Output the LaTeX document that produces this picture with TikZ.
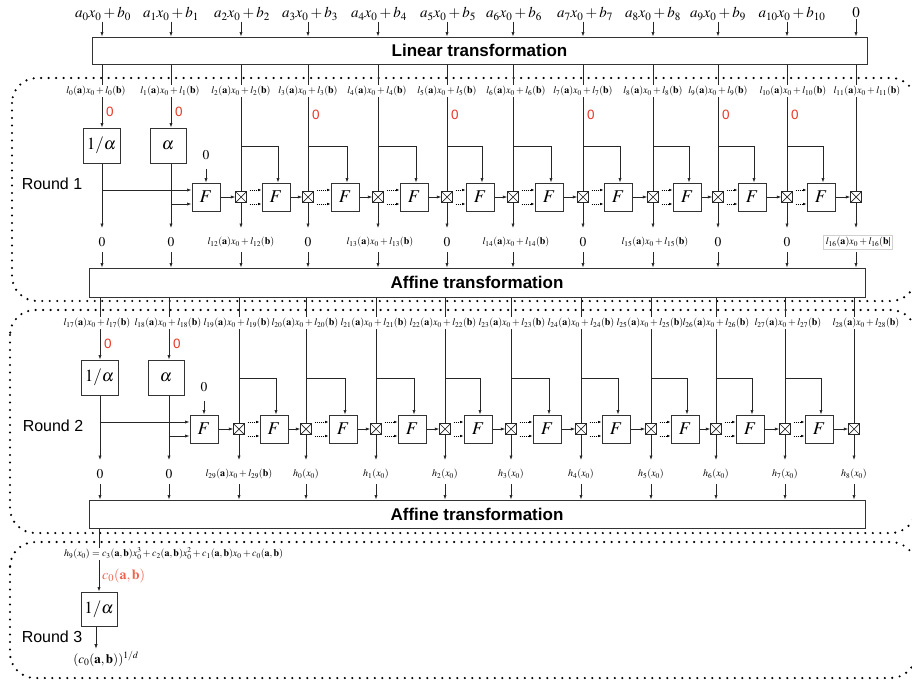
\documentclass[tikz,border=0pt]{standalone}
\usepackage{mathptmx}
\usepackage[no-math]{fontspec}
\newfontfamily\hv{Liberation Sans}
\usetikzlibrary{arrows.meta}
\definecolor{zred}{RGB}{232,58,42}
\definecolor{cred}{RGB}{240,98,78}
\definecolor{curblue}{RGB}{30,100,230}
\newcommand{\fs}[1]{\fontsize{#1}{#1}\selectfont}
\tikzset{
  wire/.style={line width=0.7pt, draw=black!85},
  arr/.style={wire, -{Latex[length=4.5pt,width=3.2pt]}},
  dotarr/.style={line width=0.6pt, dash pattern=on 1pt off 1pt, -{Latex[length=3.5pt,width=2.6pt]}},
  blk/.style={draw=black!80, line width=1pt, fill=white, inner sep=0pt},
  fbox/.style={blk, minimum width=28pt, minimum height=28pt, font=\fs{18}},
  abox/.style={blk, minimum width=37pt, minimum height=35pt, font=\fs{17}},
  xorbox/.style={draw=black!85, line width=0.9pt, fill=white, minimum size=10.5pt, inner sep=0pt,
    path picture={\draw[line width=0.7pt] (path picture bounding box.north west) -- (path picture bounding box.south east) (path picture bounding box.north east) -- (path picture bounding box.south west);}},
  bigbox/.style={blk, font=\hv\bfseries\fs{17}},
  roundlab/.style={font=\hv\fs{16}, inner sep=0pt},
  lab/.style={font=\fs{10}, inner sep=1pt, text height=7.5pt, text depth=2.5pt},
  inlab/.style={font=\fs{15}, inner sep=1pt},
  zero/.style={font=\fs{13.5}, inner sep=1pt},
  redzero/.style={font=\hv\fs{13.5}, text=zred, inner sep=0.5pt, anchor=west},
  dotline/.style={line width=2.4pt, line cap=round, dash pattern=on 0pt off 7.5pt, rounded corners=25pt},
}
\newcommand{\roundnodes}[1]{%
  \foreach \i/\xx in {0/102,1/171,2/241,3/308,4/378,5/447,6/513,7/583,8/653,9/718,10/787,11/856}{
    \coordinate (#1A\i) at (\xx,91);
  }
  \coordinate (#1T) at (0,146);
  \coordinate (#1E) at (0,228);
  \coordinate (#1S) at (0,252);
  \node[abox] (#1inv) at (101.5,145.5) {$1/\alpha$};
  \node[abox, minimum width=36pt] (#1alp) at (168,145.5) {$\alpha$};
  \foreach \k/\xx in {1/206,2/276,3/345,4/414,5/480,6/549,7/618,8/687,9/752,10/821}{
    \node[fbox] (#1F\k) at (\xx,197) {$F$};
    \coordinate (#1Fu\k) at ([yshift=7pt]#1F\k.west);
    \coordinate (#1Fl\k) at ([yshift=-7pt]#1F\k.west);
  }
  \foreach \k/\xx in {2/241,3/308,4/378,5/447,6/513,7/583,8/653,9/718,10/787,11/856}{
    \node[xorbox] (#1X\k) at (\xx,197) {};
  }
  \node[zero] (#1z) at (206,155) {$0$};
}
\newcommand{\roundwires}[3]{%
  \foreach \i in {0,...,11}{
    \draw[wire] (#2.south -| #1A\i) -- (#1L\i.north -| #1A\i);
  }
  \draw[arr] (#1L0.south -| #1A0) -- (#1inv.north -| #1A0);
  \draw[arr] (#1L1.south -| #1A1) -- (#1alp.north -| #1A1);
  \draw[arr] (#1inv.south -| #1A0) -- (#1E -| #1A0);
  \draw[arr] (#1alp.south -| #1A1) -- (#1E -| #1A1);
  \draw[arr] (#1Fu1 -| #1A0) -- (#1Fu1);
  \draw[arr] (#1Fl1 -| #1A1) -- (#1Fl1);
  \draw[arr, shorten <=8pt] (#1z.south) -- (#1F1.north);
  \foreach \k in {2,...,11}{
    \draw[wire] (#1L\k.south -| #1A\k) -- (#1X\k.north);
    \draw[arr] (#1X\k.south) -- (#1E -| #1A\k);
  }
  \foreach \k [evaluate=\k as \j using int(\k+1)] in {1,...,10}{
    \draw[arr] (#1F\k.east) -- (#1X\j.west);
  }
  \foreach \k in {2,...,10}{
    \draw[arr] (#1T -| #1A\k) -| ([xshift=2pt]#1F\k.north);
    \draw[dotarr, shorten <=3pt] (#1X\k.east |- #1Fu\k) -- (#1Fu\k);
    \draw[dotarr, shorten <=3pt] (#1X\k.east |- #1Fl\k) -- (#1Fl\k);
  }
  \foreach \i in {0,...,11}{
    \draw[arr] (#1S -| #1A\i) -- (#3.north -| #1A\i);
  }
}
\begin{document}
\begin{tikzpicture}[x=1pt,y=-1pt]
\useasboundingbox (0,0) rectangle (912,681);
\clip (0,0) rectangle (912,681);
\fill[white] (0,0) rectangle (912,681);

% dotted round frames
\draw[dotline] (12,78) rectangle (916,301);
\draw[dotline] (10,310) rectangle (916,533);
\draw[dotline] (10,542) rectangle (916,678);

% big boxes
\node[bigbox, minimum width=775pt, minimum height=27pt] (lin) at (479.5,50.5) {Linear transformation};
\node[bigbox, minimum width=776pt, minimum height=29pt] (aff1) at (477,282.5) {Affine transformation};
\node[bigbox, minimum width=776pt, minimum height=28pt] (aff2) at (477,514) {Affine transformation};

% round labels
\node[roundlab] (rl1) at (52,184) {Round 1};
\node[roundlab] (rl2) at (53,426) {Round 2};
\node[roundlab] (rl3) at (52,637) {Round 3};

% ---------------- Round 1
\begin{scope}
  \roundnodes{R1}
  \foreach \i/\dd in {0/-6pt,1/-1pt,2/0pt,3/0pt,4/-1pt,5/0pt,6/3pt,7/0pt,8/0pt,9/0pt,10/6pt,11/11pt}{
    \node[lab] (R1L\i) at ([xshift=\dd]R1A\i) {$l_{\i}(\mathbf{a})x_0 + l_{\i}(\mathbf{b})$};
  }
  \foreach \i/\dd in {0/-21pt,1/-21pt,3/-24pt,5/-24pt,7/-24pt,9/-24pt,10/-24pt}{
    \node[redzero] (R1r\i) at ([xshift=3.5pt,yshift=\dd]R1A\i) {0};
  }
  \node[zero] (R1O0) at ([yshift=-151pt]R1A0) {$0$};
  \node[zero] (R1O1) at ([yshift=-151pt]R1A1) {$0$};
  \node[lab] (R1O2) at ([yshift=-151pt]R1A2) {$l_{12}(\mathbf{a})x_0 + l_{12}(\mathbf{b})$};
  \node[zero] (R1O3) at ([yshift=-151pt]R1A3) {$0$};
  \node[lab] (R1O4) at ([xshift=2pt,yshift=-151pt]R1A4) {$l_{13}(\mathbf{a})x_0 + l_{13}(\mathbf{b})$};
  \node[zero] (R1O5) at ([yshift=-151pt]R1A5) {$0$};
  \node[lab] (R1O6) at ([xshift=3pt,yshift=-151pt]R1A6) {$l_{14}(\mathbf{a})x_0 + l_{14}(\mathbf{b})$};
  \node[zero] (R1O7) at ([yshift=-151pt]R1A7) {$0$};
  \node[lab] (R1O8) at ([xshift=2pt,yshift=-151pt]R1A8) {$l_{15}(\mathbf{a})x_0 + l_{15}(\mathbf{b})$};
  \node[zero] (R1O9) at ([yshift=-151pt]R1A9) {$0$};
  \node[zero] (R1O10) at ([yshift=-151pt]R1A10) {$0$};
  \node[lab, draw=black!18, line width=0.9pt, inner sep=2pt] (R1O11) at ([xshift=2pt,yshift=-151pt]R1A11) {$l_{16}(\mathbf{a})x_0 + l_{16}(\mathbf{b}$\textcolor{curblue}{\rule[-1.5pt]{1.4pt}{9pt}}};
  \roundwires{R1}{lin}{aff1}
\end{scope}

% ---------------- Round 2
\begin{scope}[shift={(-2,232)}]
  \roundnodes{R2}
  \foreach \i/\dd [evaluate=\i as \n using int(\i+17)] in {0/-3pt,1/-1pt,2/-2pt,3/-1pt,4/-2pt,5/-2pt,6/1pt,7/0pt,8/-1pt,9/0pt,10/3pt,11/12pt}{
    \node[lab] (R2L\i) at ([xshift=\dd]R2A\i) {$l_{\n}(\mathbf{a})x_0 + l_{\n}(\mathbf{b})$};
  }
  \foreach \i in {0,1}{
    \node[redzero] (R2r\i) at ([xshift=3.5pt,yshift=-21pt]R2A\i) {0};
  }
  \node[zero] (R2O0) at ([yshift=-151pt]R2A0) {$0$};
  \node[zero] (R2O1) at ([yshift=-151pt]R2A1) {$0$};
  \node[lab] (R2O2) at ([yshift=-151pt]R2A2) {$l_{29}(\mathbf{a})x_0 + l_{29}(\mathbf{b})$};
  \foreach \i [evaluate=\i as \n using int(\i-3)] in {3,...,11}{
    \node[lab] (R2O\i) at ([yshift=-151pt]R2A\i) {$h_{\n}(x_0)$};
  }
  \roundwires{R2}{aff1}{aff2}
\end{scope}

% ---------------- Round 3
\coordinate (C3) at (99,560);
\coordinate (D3) at (96,640);
\node[lab, anchor=west] (h9) at (63,554) {$h_9(x_0) = c_3(\mathbf{a},\mathbf{b})x_0^3 + c_2(\mathbf{a},\mathbf{b})x_0^2 + c_1(\mathbf{a},\mathbf{b})x_0 + c_0(\mathbf{a},\mathbf{b})$};
\node[abox, minimum width=36pt, minimum height=34pt] (inv3) at (99,609) {$1/\alpha$};
\node[font=\fs{14}, text=cred, anchor=west, inner sep=0pt] (c0) at (102,576) {$c_0(\mathbf{a},\mathbf{b})$};
\node[font=\fs{13}, inner sep=2.5pt] (res) at (106,659) {$(c_0(\mathbf{a},\mathbf{b}))^{1/d}$};
\draw[wire] (aff2.south -| C3) -- (h9.north -| C3);
\draw[arr] (h9.south -| C3) -- (inv3.north -| C3);
\draw[arr] (inv3.south -| D3) -- (res.north -| D3);

% ---------------- Inputs
\foreach \i/\xx in {0/103,1/171,2/242,3/310,4/379,5/448,6/514,7/585,8/653,9/718,10/792}{
  \node[inlab] (in\i) at (\xx,14) {$a_{\i}x_0 + b_{\i}$};
}
\node[inlab] (in11) at (856,13) {$0$};
\foreach \i in {0,...,11}{
  \draw[arr] (in\i.south -| R1A\i) -- (lin.north -| R1A\i);
}
\end{tikzpicture}
\end{document}
